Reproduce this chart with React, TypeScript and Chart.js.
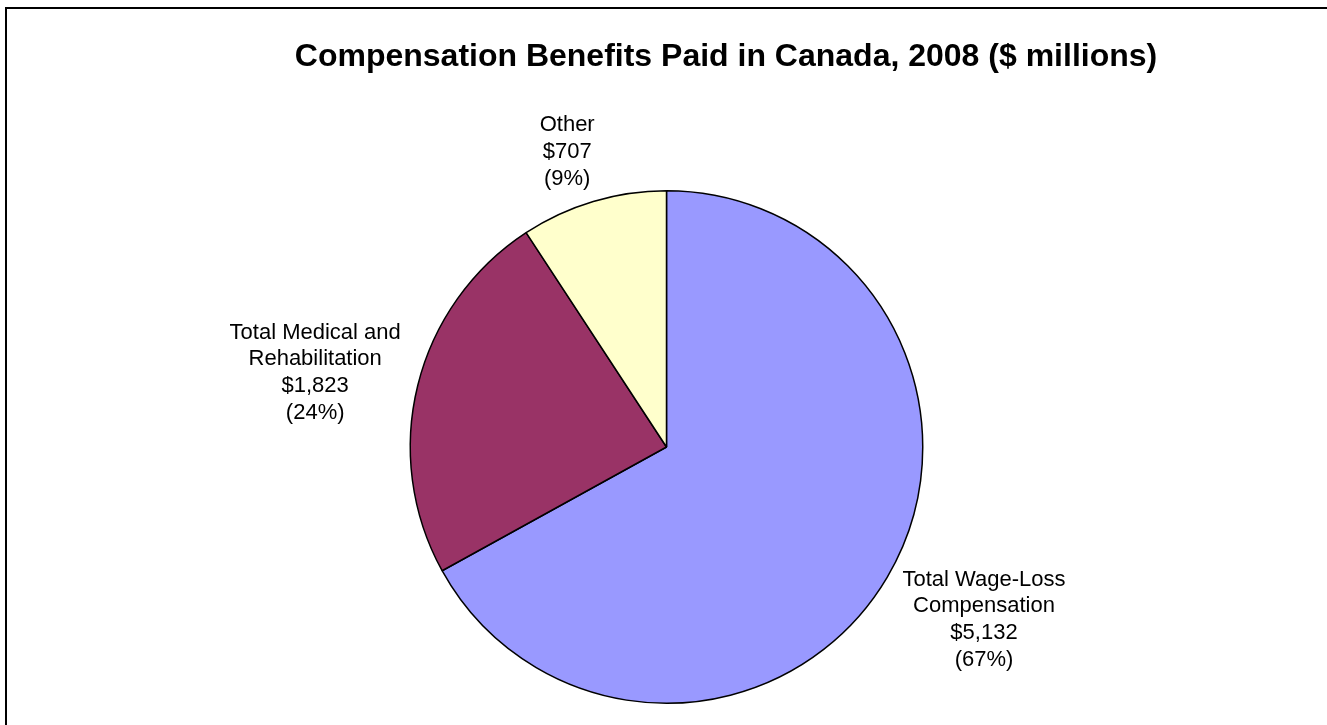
import React, { useEffect, useRef } from "react";
import { Chart, registerables } from "chart.js";

Chart.register(...registerables);

const titleText = "Compensation Benefits Paid in Canada, 2008 ($ millions)";
const categories = [
  ["Total Wage-Loss", "Compensation"],
  ["Total Medical and", "Rehabilitation"],
  ["Other"],
];
const values = [5132, 1823, 707];
const valueLabels = ["$5,132", "$1,823", "$707"];
const percentLabels = ["(67%)", "(24%)", "(9%)"];
const colors = ["#9999FF", "#993366", "#FFFFCC"];

const W = 1327;
const H = 725;
const FONT = "'Liberation Sans', Arial, Helvetica, sans-serif";

const framePlugin = {
  id: "frame",
  beforeDraw(chart: any) {
    const ctx = chart.ctx;
    ctx.save();
    ctx.fillStyle = "#ffffff";
    ctx.fillRect(0, 0, chart.width, chart.height);
    ctx.strokeStyle = "#000000";
    ctx.lineWidth = 2;
    ctx.strokeRect(6, 8, chart.width + 200, chart.height + 200);
    ctx.fillStyle = "#000000";
    ctx.font = `bold 32px ${FONT}`;
    ctx.textAlign = "center";
    ctx.textBaseline = "alphabetic";
    ctx.fillText(titleText, 726, 66);
    ctx.restore();
  },
};

const labelPlugin = {
  id: "outLabels",
  afterDraw(chart: any) {
    const ctx = chart.ctx;
    const meta = chart.getDatasetMeta(0);
    const lineH = 26.8;
    const gap = 8;
    const rot = -0.035;
    ctx.save();
    ctx.font = `22px ${FONT}`;
    ctx.fillStyle = "#000000";
    ctx.textAlign = "center";
    ctx.textBaseline = "middle";
    meta.data.forEach((arc: any, i: number) => {
      const p = arc.getProps(["x", "y", "startAngle", "endAngle", "outerRadius"], true);
      const mid = (p.startAngle + p.endAngle) / 2 + rot;
      const dx = Math.cos(mid);
      const dy = Math.sin(mid);
      const lines = [...categories[i], valueLabels[i], percentLabels[i]];
      let maxW = 0;
      lines.forEach((l) => {
        maxW = Math.max(maxW, ctx.measureText(l).width);
      });
      const hw = maxW / 2;
      const hh = (lines.length * lineH) / 2;
      const ext = Math.abs(dx) * hw + Math.abs(dy) * hh;
      const r = p.outerRadius + gap + ext;
      const cx = p.x + dx * r;
      const cy = p.y + dy * r;
      lines.forEach((l, j) => {
        ctx.fillText(l, cx, cy - hh + lineH * (j + 0.5));
      });
    });
    ctx.restore();
  },
};

export default function App() {
  const ref = useRef<HTMLCanvasElement | null>(null);
  useEffect(() => {
    if (!ref.current) return;
    const chart = new Chart(ref.current, {
      type: "pie",
      data: {
        labels: categories.map((c) => c.join(" ")),
        datasets: [
          {
            data: values,
            backgroundColor: colors,
            borderColor: "#000000",
            borderWidth: 1.5,
          },
        ],
      },
      options: {
        responsive: false,
        animation: false,
        layout: { padding: { top: 190, bottom: 21, left: 300, right: 294 } },
        plugins: {
          legend: { display: false },
          title: { display: false },
          tooltip: { enabled: false },
        },
      },
      plugins: [framePlugin, labelPlugin],
    });
    return () => chart.destroy();
  }, []);
  return (
    <div style={{ position: "fixed", left: 0, top: 0, width: W, height: H, overflow: "hidden", background: "#fff" }}>
      <canvas ref={ref} width={W} height={H} style={{ display: "block", width: W, height: H }} />
    </div>
  );
}
